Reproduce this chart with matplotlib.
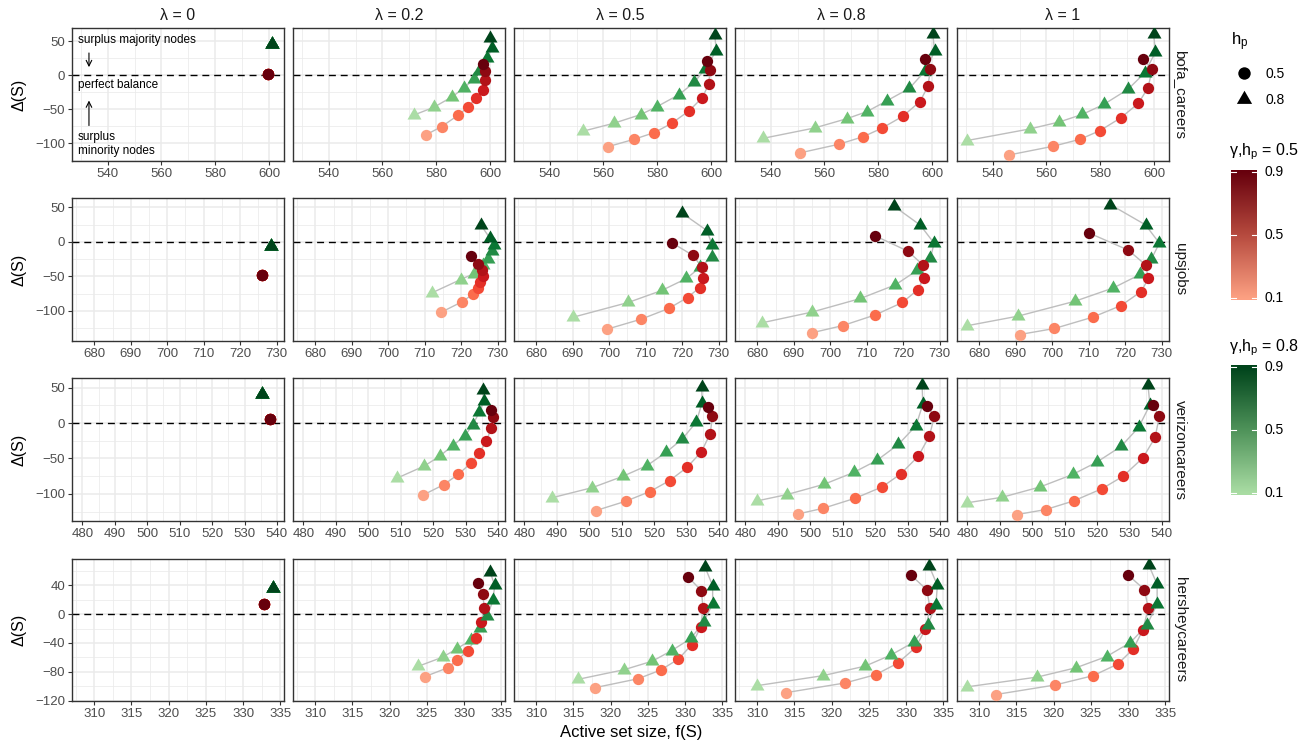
import numpy as np
import matplotlib
matplotlib.use("Agg")
import matplotlib.pyplot as plt
from matplotlib.colors import LinearSegmentedColormap
from matplotlib.ticker import MultipleLocator
from matplotlib.path import Path
from matplotlib.markers import MarkerStyle

plt.rcParams['font.family'] = ['Liberation Sans', 'DejaVu Sans']
plt.rcParams['mathtext.fontset'] = 'custom'
plt.rcParams['mathtext.rm'] = 'Liberation Sans'
plt.rcParams['mathtext.it'] = 'Liberation Sans:italic'

# ---------------- data ----------------
LAMBDAS = ["0", "0.2", "0.5", "0.8", "1"]
DATASETS = ["bofa_careers", "upsjobs", "verizoncareers", "hersheycareers"]
GAMMA = [0.1, 0.2, 0.3, 0.4, 0.5, 0.6, 0.7, 0.8, 0.9]

# bofa_careers (h_p = 0.5 circles, h_p = 0.8 triangles); one list per lambda
BOFA_CIRC_X = [
    [599.5, 599.5, 599.5, 599.5, 599.5, 599.5, 599.5, 599.5, 599.5],
    [576.1, 582.0, 588.1, 591.9, 594.8, 597.3, 598.2, 598.2, 597.5],
    [561.8, 571.4, 578.9, 585.4, 591.9, 596.8, 599.1, 599.7, 598.5],
    [550.8, 565.3, 574.5, 581.3, 589.1, 595.5, 598.5, 599.4, 597.3],
    [546.1, 562.5, 572.5, 579.9, 587.6, 594.2, 597.8, 599.3, 595.9],
]
BOFA_CIRC_Y = [
    [2.0, 2.0, 2.0, 2.0, 2.0, 2.0, 2.0, 2.0, 2.0],
    [-87.7, -75.5, -58.8, -46.6, -32.8, -22.0, -6.9, 5.9, 16.7],
    [-104.9, -94.1, -84.3, -70.6, -52.0, -32.8, -13.2, 7.4, 21.6],
    [-114.2, -101.5, -90.2, -77.9, -60.3, -38.7, -16.2, 9.3, 24.0],
    [-117.2, -104.4, -94.1, -81.4, -62.7, -41.2, -18.1, 8.8, 24.5],
]
BOFA_TRI_X = [
    [601.0, 601.0, 601.0, 601.0, 601.0, 601.0, 601.0, 601.0, 601.0],
    [571.8, 579.1, 586.0, 590.3, 593.9, 595.8, 598.9, 600.6, 600.1],
    [552.2, 563.8, 573.8, 579.9, 588.1, 593.8, 597.8, 602.0, 601.4],
    [537.3, 556.3, 568.4, 575.8, 583.3, 591.6, 597.3, 601.0, 600.3],
    [530.3, 553.8, 564.8, 573.4, 581.4, 590.3, 596.5, 600.5, 599.9],
]
BOFA_TRI_Y = [
    [46.0, 46.0, 46.0, 46.0, 46.0, 46.0, 46.0, 46.0, 46.0],
    [-58.3, -47.0, -31.4, -18.6, -5.9, 5.9, 25.5, 39.7, 54.4],
    [-82.4, -70.6, -57.8, -46.1, -28.4, -10.3, 9.3, 36.3, 58.8],
    [-92.6, -77.5, -63.7, -53.4, -37.3, -19.1, 5.9, 35.3, 60.8],
    [-96.1, -78.9, -68.6, -57.4, -42.6, -20.6, 3.4, 33.8, 60.8],
]

# upsjobs
UPS_CIRC_X = [
    [726.0, 726.0, 726.0, 726.0, 726.0, 726.0, 726.0, 726.0, 726.0],
    [714.4, 720.2, 723.3, 724.7, 725.3, 726.1, 725.7, 724.6, 722.7],
    [699.4, 708.8, 716.3, 721.5, 724.8, 725.8, 725.5, 723.0, 717.1],
    [694.9, 703.5, 712.4, 719.8, 724.1, 725.6, 725.5, 721.3, 712.3],
    [691.1, 700.6, 711.1, 718.9, 724.4, 726.4, 725.6, 720.9, 710.0],
]
UPS_CIRC_Y = [
    [-47.8, -47.8, -47.8, -47.8, -47.8, -47.8, -47.8, -47.8, -47.8],
    [-102.4, -87.0, -75.8, -67.1, -58.9, -49.8, -41.5, -31.9, -20.3],
    [-126.6, -112.0, -96.6, -80.7, -66.2, -51.7, -37.2, -19.8, -1.0],
    [-131.9, -121.3, -105.8, -87.9, -69.1, -52.2, -33.8, -13.5, 8.7],
    [-134.3, -125.6, -109.2, -92.3, -72.0, -53.1, -33.3, -12.1, 13.0],
]
UPS_TRI_X = [
    [728.6, 728.6, 728.6, 728.6, 728.6, 728.6, 728.6, 728.6, 728.6],
    [712.0, 719.9, 723.6, 725.9, 727.4, 728.6, 728.9, 727.9, 725.5],
    [690.1, 705.2, 714.4, 721.2, 725.0, 728.3, 728.3, 726.8, 720.0],
    [681.2, 694.9, 708.3, 717.9, 723.8, 727.5, 728.5, 724.7, 717.5],
    [676.5, 690.6, 706.3, 716.8, 724.1, 727.2, 729.4, 725.6, 715.9],
]
UPS_TRI_Y = [
    [-6.3, -6.3, -6.3, -6.3, -6.3, -6.3, -6.3, -6.3, -6.3],
    [-73.9, -54.6, -45.9, -34.3, -24.6, -14.0, -3.9, 5.3, 23.7],
    [-109.2, -87.9, -70.5, -53.1, -36.7, -21.3, -5.3, 16.4, 41.5],
    [-117.4, -101.9, -82.1, -62.3, -41.5, -23.7, -1.9, 24.2, 51.7],
    [-121.7, -107.7, -86.0, -66.7, -47.3, -25.1, -1.9, 24.6, 54.1],
]

# verizoncareers
VZ_CIRC_X = [
    [537.9, 537.9, 537.9, 537.9, 537.9, 537.9, 537.9, 537.9, 537.9],
    [516.8, 523.3, 527.8, 531.6, 534.3, 536.4, 538.0, 538.5, 537.9],
    [502.1, 511.3, 518.7, 524.8, 530.2, 534.6, 537.3, 538.0, 536.6],
    [496.4, 504.1, 513.9, 522.2, 527.9, 533.3, 536.7, 538.3, 536.1],
    [495.4, 504.2, 512.8, 521.6, 528.0, 534.1, 537.9, 539.2, 537.1],
]
VZ_CIRC_Y = [
    [5.6, 5.6, 5.6, 5.6, 5.6, 5.6, 5.6, 5.6, 5.6],
    [-101.9, -86.9, -72.3, -56.8, -41.8, -25.4, -7.0, 8.5, 18.3],
    [-123.5, -110.3, -96.7, -81.2, -62.4, -40.4, -15.0, 9.9, 22.1],
    [-128.2, -120.2, -106.1, -90.1, -71.8, -46.9, -18.8, 9.4, 23.9],
    [-129.1, -122.1, -109.9, -92.5, -75.1, -49.3, -20.2, 10.3, 24.9],
]
VZ_TRI_X = [
    [535.4, 535.4, 535.4, 535.4, 535.4, 535.4, 535.4, 535.4, 535.4],
    [509.0, 517.3, 522.0, 526.0, 529.8, 532.2, 534.3, 535.7, 535.3],
    [488.4, 501.0, 510.4, 517.8, 523.7, 528.7, 533.0, 534.8, 534.7],
    [483.6, 492.9, 504.3, 513.5, 520.6, 527.2, 532.6, 534.7, 534.5],
    [479.8, 490.8, 502.5, 512.6, 520.0, 527.4, 532.8, 536.3, 535.7],
]
VZ_TRI_Y = [
    [40.4, 40.4, 40.4, 40.4, 40.4, 40.4, 40.4, 40.4, 40.4],
    [-77.5, -60.6, -46.9, -31.9, -18.3, -2.3, 15.5, 31.9, 47.4],
    [-105.6, -91.1, -75.1, -60.1, -41.3, -22.5, 1.4, 28.6, 51.6],
    [-109.9, -100.9, -86.4, -69.5, -52.6, -30.0, -3.8, 26.3, 54.5],
    [-112.7, -104.7, -90.1, -72.3, -54.9, -32.9, -6.1, 25.8, 53.5],
]

# hersheycareers
HS_CIRC_X = [
    [332.8, 332.8, 332.8, 332.8, 332.8, 332.8, 332.8, 332.8, 332.8],
    [324.7, 327.8, 329.1, 330.5, 331.6, 332.3, 332.7, 332.5, 331.8],
    [317.9, 323.7, 326.7, 329.1, 330.9, 332.1, 332.4, 332.2, 330.4],
    [313.9, 321.8, 325.9, 328.9, 331.3, 332.6, 333.2, 332.8, 330.7],
    [312.2, 320.2, 325.3, 328.6, 330.7, 332.0, 332.7, 332.2, 330.0],
]
HS_CIRC_Y = [
    [13.8, 13.8, 13.8, 13.8, 13.8, 13.8, 13.8, 13.8, 13.8],
    [-86.9, -74.5, -63.4, -50.6, -33.1, -11.0, 9.2, 28.5, 43.7],
    [-102.1, -89.7, -77.7, -62.5, -42.3, -17.9, 8.3, 32.6, 51.5],
    [-109.0, -95.6, -84.1, -68.0, -46.0, -20.7, 8.3, 33.6, 53.8],
    [-111.7, -98.4, -85.5, -69.4, -48.3, -21.6, 8.3, 34.0, 54.3],
]
HS_TRI_X = [
    [334.0, 334.0, 334.0, 334.0, 334.0, 334.0, 334.0, 334.0, 334.0],
    [323.8, 327.1, 329.0, 330.9, 332.1, 333.1, 333.9, 334.1, 333.5],
    [315.6, 321.8, 325.6, 328.2, 330.8, 332.5, 333.7, 333.7, 332.7],
    [310.0, 318.8, 324.5, 328.0, 331.0, 332.9, 334.0, 334.2, 333.1],
    [308.3, 317.8, 323.0, 327.1, 330.3, 332.5, 333.9, 333.9, 332.8],
]
HS_TRI_Y = [
    [35.9, 35.9, 35.9, 35.9, 35.9, 35.9, 35.9, 35.9, 35.9],
    [-72.6, -59.8, -48.3, -35.9, -19.3, -2.3, 19.3, 40.0, 58.9],
    [-90.6, -77.2, -65.3, -50.6, -33.6, -10.6, 14.3, 39.5, 64.8],
    [-99.3, -85.5, -72.2, -56.6, -39.1, -14.7, 12.0, 40.0, 66.7],
    [-101.1, -87.4, -74.5, -58.9, -39.5, -15.6, 13.8, 41.4, 67.6],
]

ROWS = [
    (BOFA_CIRC_X, BOFA_CIRC_Y, BOFA_TRI_X, BOFA_TRI_Y),
    (UPS_CIRC_X, UPS_CIRC_Y, UPS_TRI_X, UPS_TRI_Y),
    (VZ_CIRC_X, VZ_CIRC_Y, VZ_TRI_X, VZ_TRI_Y),
    (HS_CIRC_X, HS_CIRC_Y, HS_TRI_X, HS_TRI_Y),
]
X_STEP = [20, 10, 10, 5]
Y_STEP = [50, 50, 50, 40]

# ---------------- styling / layout ----------------
W, H = 1307, 746
fig = plt.figure(figsize=(W / 100, H / 100), dpi=100)


def rect(left, top, w, h):
    return [left / W, 1 - (top + h) / H, w / W, h / H]


COL_LEFT = [72, 293, 514, 735, 957]
PANEL_W = 212
ROW_TOP = [28, 198, 378, 559]
ROW_H = [133, 143, 143, 142]

reds_pts = LinearSegmentedColormap.from_list("reds_pts", plt.get_cmap("Reds")(np.linspace(0.33, 1.0, 256)))
greens_pts = LinearSegmentedColormap.from_list("greens_pts", plt.get_cmap("Greens")(np.linspace(0.34, 1.0, 256)))
reds_bar = LinearSegmentedColormap.from_list("reds_bar", ["#FCA082", "#B64A3E", "#67000D"])
greens_bar = LinearSegmentedColormap.from_list("greens_bar", ["#A9DCA3", "#4F935A", "#00441B"])

tri_marker = MarkerStyle(Path([(0, 1), (-0.866, -0.5), (0.866, -0.5), (0, 1)],
                              [Path.MOVETO, Path.LINETO, Path.LINETO, Path.CLOSEPOLY]))

GRID_C = "#EBEBEB"
SPINE_C = "#333333"
TICK_C = "#4D4D4D"
TEXT_C = "#1A1A1A"

for r, (cxs, cys, txs, tys) in enumerate(ROWS):
    first = None
    for c in range(5):
        ax = fig.add_axes(rect(COL_LEFT[c], ROW_TOP[r], PANEL_W, ROW_H[r]),
                          sharex=first, sharey=first)
        if first is None:
            first = ax
        ax.set_facecolor("white")
        ax.set_axisbelow(True)
        ax.xaxis.set_major_locator(MultipleLocator(X_STEP[r]))
        ax.xaxis.set_minor_locator(MultipleLocator(X_STEP[r] / 2))
        ax.yaxis.set_major_locator(MultipleLocator(Y_STEP[r]))
        ax.yaxis.set_minor_locator(MultipleLocator(Y_STEP[r] / 2))
        ax.grid(which="major", color=GRID_C, lw=1.1)
        ax.grid(which="minor", color=GRID_C, lw=0.55)
        for s in ax.spines.values():
            s.set_color(SPINE_C)
            s.set_linewidth(1.0)
        ax.tick_params(which="major", length=3, width=0.8, color=SPINE_C,
                       labelsize=9.5, labelcolor=TICK_C, pad=2)
        ax.tick_params(which="minor", length=0)
        if c > 0:
            ax.tick_params(axis="y", left=False, labelleft=False)

        ax.axhline(0, color="black", lw=1.0, ls=(0, (5, 3.5)), zorder=2)
        cx, cy, tx, ty = cxs[c], cys[c], txs[c], tys[c]
        ax.plot(cx, cy, color="#BEBEBE", lw=1.0, zorder=3)
        ax.plot(tx, ty, color="#BEBEBE", lw=1.0, zorder=3)
        for i, g in enumerate(GAMMA):
            ax.scatter([cx[i]], [cy[i]], c=[g], cmap=reds_pts, vmin=0.1, vmax=0.9,
                       s=66, marker="o", linewidths=0, zorder=4 + 2 * i)
            ax.scatter([tx[i]], [ty[i]], c=[g], cmap=greens_pts, vmin=0.1, vmax=0.9,
                       s=135, marker=tri_marker, linewidths=0, zorder=5 + 2 * i)
        ax.margins(x=0.05, y=0.05)

        if r == 0:
            ax.set_title(f"λ = {LAMBDAS[c]}", fontsize=11.5, color=TEXT_C, pad=6)
        if c == 4:
            ax.text(1.05, 0.5, DATASETS[r], transform=ax.transAxes, rotation=270,
                    ha="center", va="center", fontsize=11, color=TEXT_C)
        if c == 0:
            ax.set_ylabel("Δ(S)", fontsize=11.5, color="black", labelpad=6)

        if r == 0 and c == 0:
            tr = ax.get_yaxis_transform()
            ax.text(0.028, 52.5, "surplus majority nodes", fontsize=8.5, va="center",
                    ha="left", transform=tr)
            ax.annotate("", xy=(0.08, 8), xytext=(0.08, 37), xycoords=tr, textcoords=tr,
                        arrowprops=dict(arrowstyle="->", color="black", lw=0.8))
            ax.text(0.028, -13.7, "perfect balance", fontsize=8.5, va="center",
                    ha="left", transform=tr)
            ax.annotate("", xy=(0.08, -33), xytext=(0.08, -78), xycoords=tr, textcoords=tr,
                        arrowprops=dict(arrowstyle="->", color="black", lw=0.8))
            ax.text(0.028, -91, "surplus", fontsize=8.5, va="center", ha="left", transform=tr)
            ax.text(0.028, -111, "minority nodes", fontsize=8.5, va="center", ha="left",
                    transform=tr)

fig.text(631 / W, 1 - 733 / H, "Active set size, f(S)", ha="center", va="center",
         fontsize=12)

# ---------------- legends ----------------
lg = fig.add_axes([0, 0, 1, 1])
lg.set_xlim(0, W)
lg.set_ylim(H, 0)
lg.axis("off")
lg.text(1231, 42, r"$\mathregular{h_p}$", fontsize=12, va="center", ha="left")
lg.scatter([1244], [73], s=80, marker="o", color="black", linewidths=0)
lg.scatter([1244], [99], s=160, marker=tri_marker, color="black", linewidths=0)
lg.text(1265, 74, "0.5", fontsize=10, va="center", ha="left")
lg.text(1265, 100, "0.8", fontsize=10, va="center", ha="left")
lg.text(1229, 152, r"γ,$\mathregular{h_p}$ = 0.5", fontsize=11.5, va="center", ha="left")
lg.text(1229, 348, r"γ,$\mathregular{h_p}$ = 0.8", fontsize=11.5, va="center", ha="left")

BAR_TICKS = [0.1, 0.5, 0.9]
for top, cmap in [(170, reds_bar), (365, greens_bar)]:
    cax = fig.add_axes(rect(1231, top, 26, 130))
    grad = np.linspace(0.087, 0.913, 256)[:, None]
    cax.imshow(grad, aspect="auto", cmap=cmap, vmin=0.1, vmax=0.9, origin="lower",
               extent=[0, 1, 0.087, 0.913])
    cax.set_xlim(0, 1)
    cax.set_ylim(0.087, 0.913)
    cax.axis("off")
    for v in BAR_TICKS:
        cax.plot([0, 0.2], [v, v], color="white", lw=0.8)
        cax.plot([0.8, 1], [v, v], color="white", lw=0.8)
        cax.text(1.3, v, f"{v}", transform=cax.get_yaxis_transform(), fontsize=10,
                 va="center", ha="left")

fig.savefig("out.png", dpi=100)
